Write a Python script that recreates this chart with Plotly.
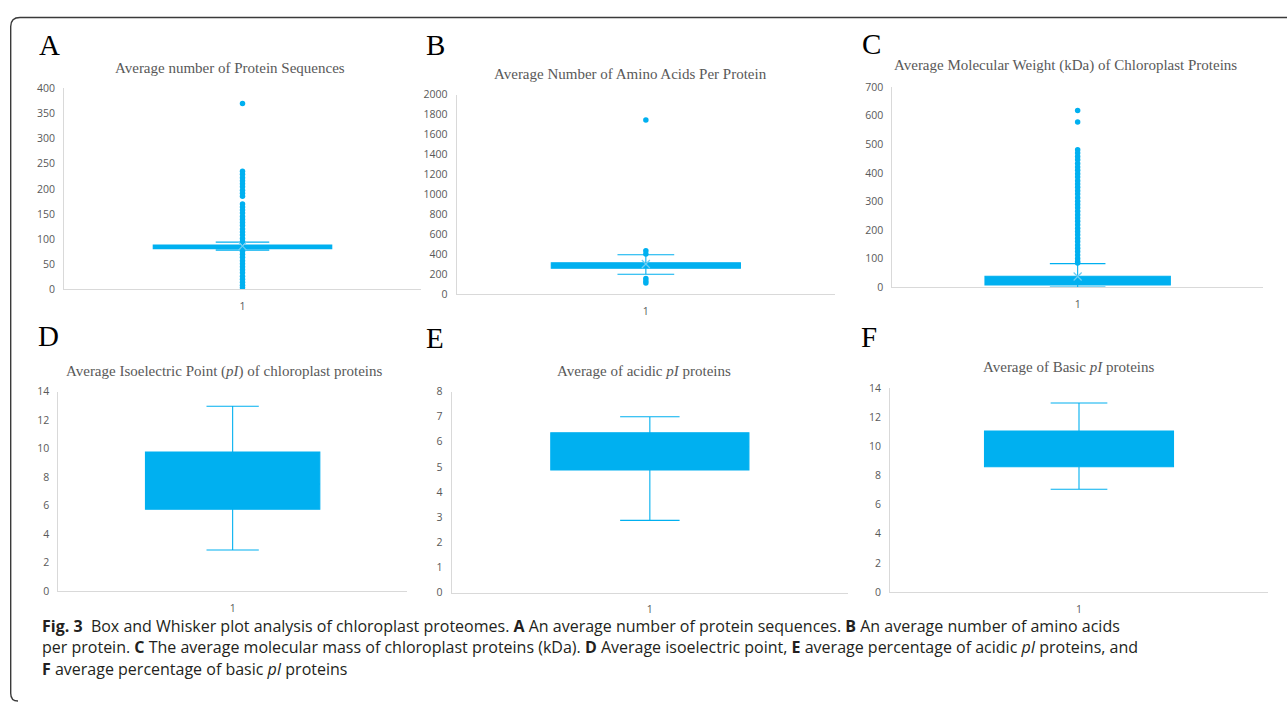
import plotly.graph_objects as go

# ---------------- data ----------------
categories = ["1"]
panel_letters = ["A", "B", "C", "D", "E", "F"]
panel_titles = [
    "Average number of Protein Sequences",
    "Average Number of Amino Acids Per Protein",
    "Average Molecular Weight (kDa) of Chloroplast Proteins",
    "Average Isoelectric Point (<i>pI</i>) of chloroplast proteins",
    "Average of acidic <i>pI</i> proteins",
    "Average of Basic <i>pI</i> proteins",
]
q1_vals = [81, 258, 8, 5.74, 4.88, 8.61]
median_vals = [85, 290, 25, 7.5, 5.8, 9.8]
q3_vals = [88, 312, 39, 9.76, 6.36, 11.06]
lower_fence = [78, 197, 1, 2.87, 2.87, 7.06]
upper_fence = [94, 393, 83, 12.97, 7.0, 12.99]
mean_vals = [86, 300, 38, None, None, None]

outliers_A = [370, 235, 229, 222, 216, 210, 204, 197, 191, 185, 170, 164, 158,
              152, 145, 139, 133, 127, 120, 114, 108, 101, 95, 76, 70, 64, 57,
              51, 45, 39, 33, 26, 20, 14, 8, 3]
outliers_B = [1745, 432, 400, 155, 130, 110]
outliers_C = [618, 578, 481, 470, 457, 446, 433, 421, 409, 397, 386, 373, 361,
              350, 338, 326, 313, 301, 290, 278, 266, 254, 242, 231, 219, 207,
              195, 184, 172, 160, 148, 137, 125, 113, 101, 90, 85]
outliers = [outliers_A, outliers_B, outliers_C, [], [], []]

y_max = [400, 2000, 700, 14, 8, 14]
y_dtick = [50, 200, 100, 2, 1, 2]

caption_lines = [
    "<b>Fig. 3</b>  Box and Whisker plot analysis of chloroplast proteomes. <b>A</b> An average number of protein sequences. <b>B</b> An average number of amino acids",
    "per protein. <b>C</b> The average molecular mass of chloroplast proteins (kDa). <b>D</b> Average isoelectric point, <b>E</b> average percentage of acidic <i>pI</i> proteins, and",
    "<b>F</b> average percentage of basic <i>pI</i> proteins",
]

# ---------------- layout geometry (pixels) ----------------
W, H = 1287, 710
# plot area: left, right, top, bottom
plot_px = [
    (64, 421, 83, 288),
    (456.7, 835, 89.3, 292.7),
    (892.3, 1263, 81.7, 286),
    (58.3, 407, 392.3, 595.7),
    (451.7, 848, 392.3, 597.3),
    (890, 1268, 389, 596.7),
]
title_px = [(230, 62), (630.5, 68), (1065, 60), (223.7, 371.7), (643.7, 371.7), (1069, 367.7)]
letter_px = [(49, 39), (435, 39), (871, 38), (48.5, 336), (435, 338), (869, 337)]
caption_px = [(40, 631), (40, 653), (40, 675)]

FILL = "#00b0f0"
LINE = "#00b0f0"
MEAN_COLOR = "#6fcdf2"
TICK_COLOR = "#595959"
AXIS_COLOR = "#d9d9d9"


def fx(x):
    return x / W


def fy(y):
    return 1 - y / H


fig = go.Figure()
annotations = []
layout_axes = {}

for i in range(6):
    n = "" if i == 0 else str(i + 1)
    xa, ya = "x" + n, "y" + n
    fig.add_trace(go.Box(
        x=[1], q1=[q1_vals[i]], median=[median_vals[i]], q3=[q3_vals[i]],
        lowerfence=[lower_fence[i]], upperfence=[upper_fence[i]],
        width=0.5, whiskerwidth=0.3, fillcolor=FILL,
        line=dict(color=LINE, width=1.1), boxpoints=False,
        xaxis=xa, yaxis=ya, showlegend=False, hoverinfo="skip",
    ))
    if outliers[i]:
        fig.add_trace(go.Scatter(
            x=[1] * len(outliers[i]), y=outliers[i], mode="markers",
            marker=dict(color=FILL, size=5.5), xaxis=xa, yaxis=ya,
            showlegend=False, hoverinfo="skip",
        ))
    if mean_vals[i] is not None:
        fig.add_trace(go.Scatter(
            x=[1], y=[mean_vals[i]], mode="markers",
            marker=dict(symbol="x-thin-open", size=8, color=MEAN_COLOR,
                        line=dict(color=MEAN_COLOR, width=1.2)),
            xaxis=xa, yaxis=ya, showlegend=False, hoverinfo="skip",
        ))
    l, r, t, b = plot_px[i]
    layout_axes["xaxis" + n] = dict(
        domain=[fx(l), fx(r)], range=[0.5, 1.5], tickvals=[1], ticktext=categories,
        showline=True, linecolor=AXIS_COLOR, linewidth=1, showgrid=False,
        zeroline=False, anchor=ya, ticks="outside", ticklen=7,
        tickcolor="rgba(0,0,0,0)", tickfont=dict(family="Open Sans", size=10.5, color=TICK_COLOR),
        fixedrange=True,
    )
    layout_axes["yaxis" + n] = dict(
        domain=[fy(b), fy(t)], range=[0, y_max[i]], dtick=y_dtick[i], tick0=0,
        showline=True, linecolor=AXIS_COLOR, linewidth=1, showgrid=False,
        zeroline=False, anchor=xa, ticks="outside", ticklen=6,
        tickcolor="rgba(0,0,0,0)", tickfont=dict(family="Open Sans", size=10.5, color=TICK_COLOR),
        fixedrange=True,
    )
    tx, ty = title_px[i]
    annotations.append(dict(
        text=panel_titles[i], x=fx(tx), y=fy(ty), xref="paper", yref="paper",
        xanchor="center", yanchor="middle", showarrow=False,
        font=dict(family="Liberation Serif", size=15, color="#595959"),
    ))
    lx, ly = letter_px[i]
    annotations.append(dict(
        text=panel_letters[i], x=fx(lx), y=fy(ly), xref="paper", yref="paper",
        xanchor="center", yanchor="middle", showarrow=False,
        font=dict(family="Liberation Serif", size=29, color="#000000"),
    ))

for (cx, cy), line in zip(caption_px, caption_lines):
    annotations.append(dict(
        text=line, x=fx(cx), y=fy(cy), xref="paper", yref="paper",
        xanchor="left", yanchor="middle", showarrow=False,
        font=dict(family="Open Sans", size=16, color="#231f20"),
    ))

border_path = (
    f"M {fx(W)},{fy(10.7)} L {fx(20)},{fy(10.7)} "
    f"Q {fx(10.7)},{fy(10.7)} {fx(10.7)},{fy(20)} L {fx(10.7)},{fy(700)} "
    f"Q {fx(10.7)},{fy(708)} {fx(18)},{fy(708)}"
)

fig.update_layout(
    width=W, height=H, margin=dict(l=0, r=0, t=0, b=0),
    paper_bgcolor="white", plot_bgcolor="white",
    annotations=annotations,
    shapes=[dict(type="path", path=border_path, xref="paper", yref="paper",
                 line=dict(color="#3a3a3a", width=1.4))],
    **layout_axes,
)

fig.write_html(
    "out.html",
    config={"displayModeBar": False},
    post_script="document.body.style.margin='0';document.body.style.overflow='hidden';",
)
